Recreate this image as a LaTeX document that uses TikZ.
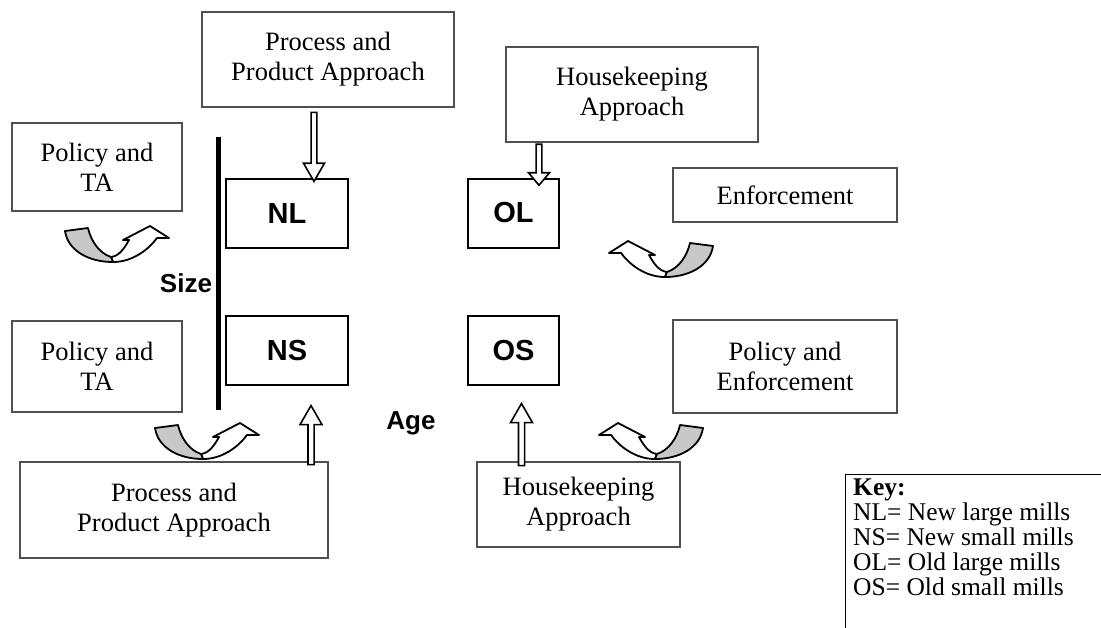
\documentclass[tikz,border=0pt]{standalone}
\usepackage{fontspec}
\setmainfont{Liberation Serif}
\setsansfont{Liberation Sans}
\usetikzlibrary{shapes.arrows, positioning, calc}
\definecolor{framegray}{RGB}{80,80,80}
\definecolor{ribbongray}{RGB}{200,200,200}

\begin{document}
\begin{tikzpicture}[x=1pt, y=-1pt,
    approach/.style={draw=framegray, line width=1.2, align=center, inner sep=0,
      font=\fontsize{26.5}{30}\selectfont},
    mill/.style={draw, line width=2, minimum height=69,
      font=\sffamily\bfseries\fontsize{29}{30}\selectfont},
    axislbl/.style={font=\sffamily\bfseries\fontsize{26}{30}\selectfont},
    hollow/.style={single arrow, draw, fill=white, line width=1.6, inner sep=1.5,
      single arrow head extend=6, single arrow tip angle=60, minimum width=21},
    uturn/.pic={
      \filldraw[fill=white, line width=1.8, line join=round]
        (0,1) .. controls (20,1) and (36,-12) .. (44,-23) -- (56,-23) -- (37,-35)
        -- (10,-21) -- (16,-21) .. controls (11,-12) and (6,-5) .. (-2,-4) -- cycle;
      \filldraw[fill=ribbongray, line width=1.8, line join=round]
        (-48,-30) .. controls (-45,-10) and (-24,1) .. (0,1) -- (-2,-4)
        .. controls (-14,-8) and (-22,-20) .. (-25,-33) -- cycle;
    }]
  \useasboundingbox (0,0) rectangle (1101,627);

  % approaches round the four mill groups
  \node[approach, minimum width=252, minimum height=95] (procTop) at (328,59.5) {Process and\\Product Approach};
  \node[approach, minimum width=252, minimum height=95] (houseTop) at (632,94.5) {Housekeeping\\Approach};
  \node[approach, minimum width=170, minimum height=88] (polTop) at (97,167) {Policy and\\TA};
  \node[approach, minimum width=224, minimum height=54] (enf) at (785,195) {Enforcement};
  \node[approach, minimum width=170, minimum height=91] (polBot) at (97,366.5) {Policy and\\TA};
  \node[approach, minimum width=224, minimum height=93] (polEnf) at (785,366.5) {Policy and\\Enforcement};
  \node[approach, minimum width=308, minimum height=96] (procBot) at (174,510) {Process and\\Product Approach};
  \node[approach, minimum width=203, minimum height=85] (houseBot) at (578.5,504.5) {Housekeeping\\Approach};

  % mill groups
  \foreach \n/\x/\y/\w in {NL/287/213.5/122, NS/287/350.5/122, OL/513.5/213/91, OS/513.5/350.5/91}
    \node[mill, minimum width=\w] (\n) at (\x,\y) {\n};

  \draw[line width=5] (218,137) -- (218,410);
  \node[axislbl] (size) at (186,283) {Size};
  \node[axislbl] (age) at (411,423) {Age};

  % block arrows
  \node[hollow, shape border rotate=270, minimum height=69, anchor=tip] (procArrow) at ($(NL.north)+(27,5)$) {};
  \node[hollow, shape border rotate=270, minimum height=41, single arrow tip angle=80, anchor=tip] (houseArrow) at ($(OL.north)+(25.5,9)$) {};
  \node[hollow, shape border rotate=90, minimum height=59, minimum width=22, anchor=tip] (procUp) at ($(NS.south)+(24,18)$) {};
  \node[hollow, shape border rotate=90, minimum height=62, minimum width=22, anchor=tip] (houseUp) at ($(OS.south)+(8,16)$) {};

  % u-turn arrows
  \pic at (113,261) {uturn};
  \pic at (203,458) {uturn};
  \pic[xscale=-1] at (665,276) {uturn};
  \pic[xscale=-1] at (655,458) {uturn};

  % key
  \node[draw, line width=1.2, anchor=north west, minimum width=290, minimum height=180] (key) at (845,474) {};
  \node[anchor=north west, align=left, inner sep=0, font=\fontsize{25.5}{25}\selectfont] (keyText)
    at ($(key.north west)+(8,5)$) {\textbf{Key:}\\NL= New large mills\\NS= New small mills\\OL= Old large mills\\OS= Old small mills};
\end{tikzpicture}
\end{document}
